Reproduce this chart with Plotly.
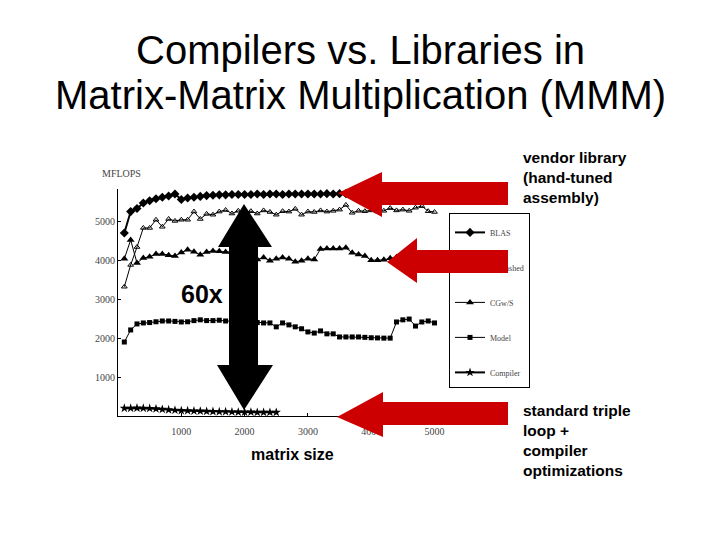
import plotly.graph_objects as go

# ---------------- data ----------------
sizes = list(range(100, 5001, 100))

blas = [4700, 5250, 5330, 5470, 5530, 5580, 5620, 5650, 5700, 5560,
        5600, 5620, 5640, 5660, 5670, 5680, 5680, 5690, 5690, 5690,
        5690, 5700, 5690, 5700, 5700, 5690, 5700, 5700, 5700, 5700,
        5700, 5700, 5710, 5700, 5710, 5710, 5700, 5710, 5710, 5710,
        5710, 5700, 5710, 5710, 5700, 5710, 5710, 5700, 5710, 5710]

unleashed = [3320, 3880, 4340, 4830, 4830, 5040, 4860, 5060, 5010, 5040,
             5040, 5250, 5060, 5190, 5170, 5250, 5290, 5200, 5270, 5240,
             5260, 5200, 5280, 5240, 5170, 5260, 5250, 5320, 5170, 5250,
             5240, 5280, 5250, 5270, 5300, 5420, 5220, 5270, 5260, 5280,
             5250, 5270, 5340, 5280, 5300, 5270, 5350, 5390, 5260, 5240]

cgws = [4040, 4520, 3930, 4060, 4090, 4160, 4160, 4130, 4110, 4200,
        4270, 4220, 4140, 4210, 4240, 4230, 4210, 4220, 4180, 4100,
        4050, 4020, 4070, 3990, 4040, 4070, 4040, 3960, 3990, 4040,
        4020, 4290, 4300, 4300, 4300, 4320, 4190, 4150, 4110, 4000,
        4000, 4010, 4050, 4080, 4030, 4060, 4040, 4070, 4050, 4060]

model = [1900, 2210, 2365, 2390, 2400, 2420, 2440, 2440, 2430, 2415,
         2420, 2450, 2470, 2450, 2450, 2460, 2440, 2440, 2430, 2420,
         2410, 2400, 2390, 2390, 2290, 2390, 2340, 2290, 2240, 2160,
         2130, 2185, 2110, 2110, 2030, 2030, 2030, 2030, 2020, 2010,
         2005, 2000, 2000, 2415, 2470, 2490, 2310, 2415, 2440, 2390]

compiler_sizes = list(range(100, 2501, 100))
compiler = [200, 200, 205, 200, 195, 185, 170, 160, 150, 140,
            135, 130, 125, 120, 115, 110, 110, 105, 100, 100,
            100, 95, 95, 95, 95]

x_ticks = [1000, 2000, 3000, 4000, 5000]
y_ticks = [1000, 2000, 3000, 4000, 5000]

series_names = ["BLAS", "Unleashed", "CGw/S", "Model", "Compiler"]

# ---------------- figure ----------------
W, H = 720, 540
OFF = 8  # page body margin of the browser


def X(px):
    return (px - OFF) / W


def Y(py):
    return 1 - (py - OFF) / H


SERIF = "Liberation Serif, Times New Roman, serif"
SANS = "Liberation Sans, Arial, sans-serif"
RED = "#CC0000"

fig = go.Figure()

fig.add_trace(go.Scatter(x=sizes, y=blas, name=series_names[0], legendgroup="a",
                         mode="lines+markers", line=dict(color="black", width=2),
                         marker=dict(symbol="diamond", size=7, color="black")))
fig.add_trace(go.Scatter(x=sizes, y=unleashed, name=series_names[1], legendgroup="b",
                         mode="lines+markers", line=dict(color="black", width=1),
                         marker=dict(symbol="triangle-up-open", size=5, color="black",
                                     line=dict(width=1))))
fig.add_trace(go.Scatter(x=sizes, y=cgws, name=series_names[2], legendgroup="c",
                         mode="lines+markers", line=dict(color="black", width=1),
                         marker=dict(symbol="triangle-up", size=7, color="black")))
fig.add_trace(go.Scatter(x=sizes, y=model, name=series_names[3], legendgroup="d",
                         mode="lines+markers", line=dict(color="black", width=1),
                         marker=dict(symbol="square", size=5, color="black")))
fig.add_trace(go.Scatter(x=compiler_sizes, y=compiler, name=series_names[4], legendgroup="e",
                         mode="lines+markers", line=dict(color="black", width=2),
                         marker=dict(symbol="star", size=7, color="black")))

axis_common = dict(showgrid=False, zeroline=False, showline=True, linecolor="black",
                   linewidth=1, ticks="inside", ticklen=3, tickcolor="black",
                   tickfont=dict(family=SERIF, size=10, color="#444"), automargin=False)

fig.update_layout(
    width=W, height=H,
    margin=dict(l=0, r=0, t=0, b=0),
    paper_bgcolor="white", plot_bgcolor="white",
    showlegend=True,
    xaxis=dict(domain=[X(118), X(444)], range=[0, 5150],
               tickvals=x_ticks, ticktext=[str(v) for v in x_ticks],
               ticklabelstandoff=6, **axis_common),
    yaxis=dict(domain=[Y(416), Y(189)], range=[0, 5830],
               tickvals=y_ticks, ticktext=[str(v) for v in y_ticks],
               **axis_common),
    legend=dict(x=X(449), y=Y(213), xanchor="left", yanchor="top",
                bgcolor="white", bordercolor="black", borderwidth=1,
                font=dict(family=SERIF, size=8, color="#444"),
                title=dict(text=" ", font=dict(size=3)),
                entrywidth=44, entrywidthmode="pixels",
                tracegroupgap=16, traceorder="grouped"),
)


# decorative arrows (slide overlays)
def left_arrow(tip_x, tip_y, head_x, head_top, head_bot, sh_top, sh_bot, end_x):
    return (f"M {X(tip_x)} {Y(tip_y)} L {X(head_x)} {Y(head_top)} L {X(head_x)} {Y(sh_top)} "
            f"L {X(end_x)} {Y(sh_top)} L {X(end_x)} {Y(sh_bot)} L {X(head_x)} {Y(sh_bot)} "
            f"L {X(head_x)} {Y(head_bot)} Z")


shapes = [
    dict(type="path", xref="paper", yref="paper", layer="above",
         path=left_arrow(338, 193, 382, 172, 217, 182, 205, 508),
         fillcolor=RED, line=dict(width=0)),
    dict(type="path", xref="paper", yref="paper", layer="above",
         path=left_arrow(387, 262, 417, 238, 283, 250, 273, 508),
         fillcolor=RED, line=dict(width=0)),
    dict(type="path", xref="paper", yref="paper", layer="above",
         path=left_arrow(337, 417, 383, 392, 437, 402, 425, 508),
         fillcolor=RED, line=dict(width=0)),
    dict(type="path", xref="paper", yref="paper", layer="above",
         path=(f"M {X(244)} {Y(204)} L {X(272)} {Y(247)} L {X(258)} {Y(247)} "
               f"L {X(258)} {Y(365)} L {X(273)} {Y(365)} L {X(244)} {Y(410)} "
               f"L {X(217)} {Y(365)} L {X(229)} {Y(365)} L {X(229)} {Y(247)} "
               f"L {X(218)} {Y(247)} Z"),
         fillcolor="black", line=dict(width=0)),
]
fig.update_layout(shapes=shapes)

annots = [
    dict(text="Compilers vs. Libraries in", x=X(360), y=Y(50), xanchor="center", yanchor="middle",
         font=dict(family=SANS, size=40, color="black")),
    dict(text="Matrix-Matrix Multiplication (MMM)", x=X(360), y=Y(95), xanchor="center",
         yanchor="middle", font=dict(family=SANS, size=40, color="black")),
    dict(text="<b>60x</b>", x=X(202), y=Y(294), xanchor="center", yanchor="middle",
         font=dict(family=SANS, size=25, color="black")),
    dict(text="<b>vendor library<br>(hand-tuned<br>assembly)</b>", x=X(521), y=Y(147),
         xanchor="left", yanchor="top", align="left",
         font=dict(family=SANS, size=15.5, color="black")),
    dict(text="<b>standard triple<br>loop +<br>compiler<br>optimizations</b>", x=X(521),
         y=Y(400), xanchor="left", yanchor="top", align="left",
         font=dict(family=SANS, size=15.5, color="black")),
    dict(text="<b>matrix size</b>", x=X(292), y=Y(454), xanchor="center", yanchor="middle",
         font=dict(family=SANS, size=16, color="black")),
    dict(text="MFLOPS", x=X(121), y=Y(173), xanchor="center", yanchor="middle",
         font=dict(family=SERIF, size=10, color="#444")),
    # part of the middle red arrow shaft that lies over the legend box
    dict(text=" ", x=X(448), y=Y(250), xanchor="left", yanchor="top", width=60, height=23,
         bgcolor=RED, borderpad=0, borderwidth=0),
]
for a in annots:
    a.update(xref="paper", yref="paper", showarrow=False)
fig.update_layout(annotations=annots)

fig.write_html("out.html")
